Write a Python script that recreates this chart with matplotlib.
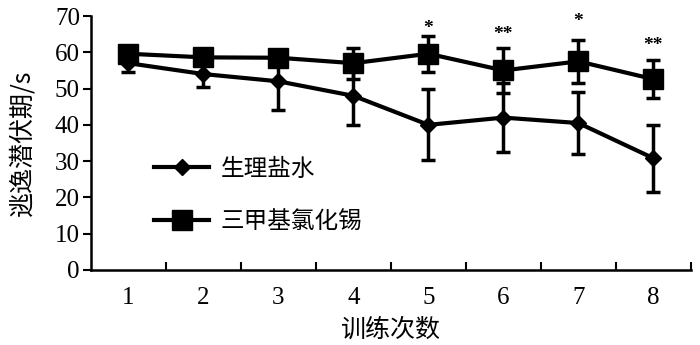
import matplotlib
matplotlib.use("Agg")
import matplotlib.pyplot as plt
from matplotlib.lines import Line2D
import numpy as np

sessions = [1, 2, 3, 4, 5, 6, 7, 8]
saline_mean = [57.0, 54.0, 52.0, 48.0, 40.0, 42.0, 40.5, 30.8]
saline_err = [2.5, 3.5, 8.0, 8.0, 9.8, 9.5, 8.5, 9.2]
tmt_mean = [59.6, 58.6, 58.5, 57.0, 59.6, 55.0, 57.5, 52.6]
tmt_err = [1.5, 1.5, 1.5, 4.3, 5.0, 6.3, 6.0, 5.3]
sig_labels = ["*", "**", "*", "**"]
sig_sessions = [5, 6, 7, 8]
sig_y = [66.5, 65.0, 68.5, 61.8]
series_names = ["生理盐水", "三甲基氯化锡"]

serif = ["Liberation Serif", "DejaVu Serif"]
cjk = ["Noto Sans CJK SC", "DejaVu Sans"]

fig = plt.figure(figsize=(7.0, 3.45), dpi=100)
ax = fig.add_axes([0.13, 0.2174, 0.857, 0.7362])

ax.errorbar(sessions, saline_mean, yerr=saline_err, color="black", lw=3,
            marker="D", markersize=8, elinewidth=2.5, capsize=5, capthick=2.5,
            zorder=3)
ax.errorbar(sessions, tmt_mean, yerr=tmt_err, color="black", lw=3,
            marker="s", markersize=14, elinewidth=2.5, capsize=5, capthick=2.5,
            zorder=3)

for s, lab, yv in zip(sig_sessions, sig_labels, sig_y):
    ax.text(s, yv, lab, ha="center", va="center", fontsize=14,
            fontweight="bold", family=serif)

ax.set_xlim(0.5, 8.5)
ax.set_ylim(0, 70)
ax.set_yticks(np.arange(0, 71, 10))
ax.set_xticks(sessions)
ax.set_xticks(np.arange(1.5, 8.6, 1.0), minor=True)
ax.tick_params(axis="x", which="major", length=0, pad=12)
ax.tick_params(axis="x", which="minor", direction="in", length=6, width=1.5)
ax.tick_params(axis="y", direction="out", length=6, width=1.5, pad=2)
for lab in ax.get_xticklabels() + ax.get_yticklabels():
    lab.set_family(serif)
    lab.set_fontsize(18)

for side in ["top", "right"]:
    ax.spines[side].set_visible(False)
for side in ["left", "bottom"]:
    ax.spines[side].set_linewidth(1.8)

ax.set_xlabel("训练次数", family=cjk, fontsize=18, labelpad=6)
ax.set_ylabel("逃逸潜伏期/s", family=cjk, fontsize=18, labelpad=14)

handles = [
    Line2D([], [], color="black", lw=3, marker="D", markersize=8),
    Line2D([], [], color="black", lw=3, marker="s", markersize=14),
]
ax.legend(handles, series_names, loc="upper left", bbox_to_anchor=(0.09, 0.48),
          frameon=False, prop={"family": cjk, "size": 17}, handlelength=2.3,
          labelspacing=1.25, handletextpad=0.5, borderaxespad=0)

fig.savefig("out.png", dpi=100)
